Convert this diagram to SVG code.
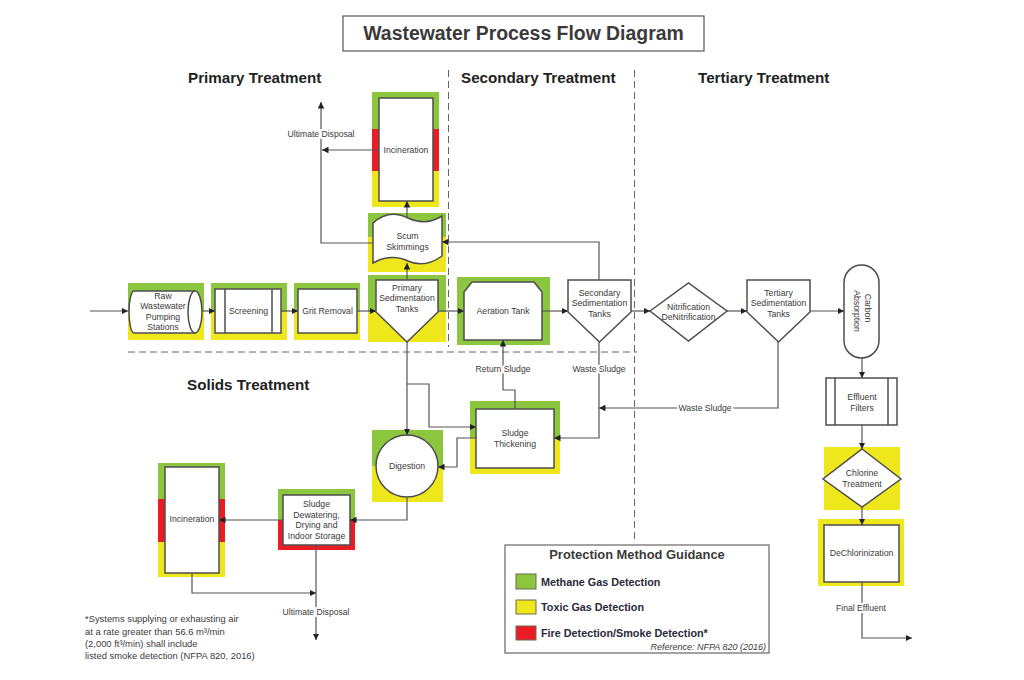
<svg xmlns="http://www.w3.org/2000/svg" width="1024" height="680" viewBox="0 0 1024 680">
<style>
text{font-family:"Liberation Sans",Arial,sans-serif;fill:#3a3a3a}
.n{font-size:8.7px;text-anchor:middle}
.h{font-size:15.2px;font-weight:bold;fill:#222}
.shape{fill:#fff;stroke:#4d4d4d;stroke-width:1.5}
.g{fill:#8cc63f}
.y{fill:#eee71c}
.r{fill:#ec1c24}
.c{fill:none;stroke:#555;stroke-width:1.2}
.lbl{font-size:8.6px;text-anchor:middle;stroke:#fff;stroke-width:4;paint-order:stroke}
.dash{fill:none;stroke:#666;stroke-width:1;stroke-dasharray:7,4}
.leg{font-size:10.8px;font-weight:bold;fill:#2a2a3a}
.fn{font-size:9.4px}
</style>
<defs>
<marker id="a" viewBox="0 0 10 10" refX="10" refY="5" markerWidth="6.5" markerHeight="6.5" markerUnits="userSpaceOnUse" orient="auto">
<path d="M0,0 L10,5 L0,10 Z" fill="#222"/>
</marker>
</defs>
<rect width="1024" height="680" fill="#fff"/>

<g id="title">
<rect x="343" y="16" width="361" height="35" fill="#fff" stroke="#555" stroke-width="1.2"/>
<text x="523.5" y="39.5" text-anchor="middle" font-size="19.4" font-weight="bold" fill="#222">Wastewater Process Flow Diagram</text>
</g>

<g id="sections">
<text class="h" x="188" y="83">Primary Treatment</text>
<text class="h" x="461" y="83">Secondary Treatment</text>
<text class="h" x="698" y="83">Tertiary Treatment</text>
<text class="h" x="187" y="390">Solids Treatment</text>
<path class="dash" d="M448.5,70 V347"/>
<path class="dash" d="M634.5,70 V543"/>
<path class="dash" d="M128,352 H637"/>
</g>

<g id="raw">
<rect class="g" x="128" y="283" width="76" height="29"/>
<rect class="y" x="128" y="312" width="76" height="28"/>
<path class="shape" d="M134,291 H195 A7,21 0 0 1 195,333 H134 A5,21 0 0 1 134,291 Z"/>
<path class="shape" fill="none" d="M195,291 A7,21 0 0 0 195,333"/>
<text class="n" x="163" y="299">Raw</text>
<text class="n" x="163" y="309">Wastewater</text>
<text class="n" x="163" y="319.5">Pumping</text>
<text class="n" x="163" y="330">Stations</text>
</g>

<g id="screening">
<rect class="g" x="211" y="283" width="76" height="29"/>
<rect class="y" x="211" y="312" width="76" height="28"/>
<rect class="shape" x="215" y="289" width="66" height="44"/>
<path class="shape" d="M225,289 V333 M272,289 V333"/>
<text class="n" x="248.5" y="314">Screening</text>
</g>

<g id="grit">
<rect class="g" x="294" y="283" width="66" height="29"/>
<rect class="y" x="294" y="312" width="66" height="28"/>
<rect class="shape" x="298" y="289" width="59" height="44"/>
<text class="n" x="327.5" y="314">Grit Removal</text>
</g>

<g id="primary">
<rect class="g" x="368" y="275" width="78" height="37"/>
<rect class="y" x="368" y="312" width="78" height="30"/>
<path class="shape" d="M376,280 H438 V312 L407,342 L376,312 Z"/>
<text class="n" x="407" y="291">Primary</text>
<text class="n" x="407" y="301">Sedimentation</text>
<text class="n" x="407" y="311.5">Tanks</text>
</g>

<g id="scum">
<rect class="g" x="368" y="213" width="78" height="24"/>
<rect class="y" x="368" y="237" width="78" height="35"/>
<path class="shape" d="M373,223 C385,212 398,213 408,218 C419,223 431,223 442,216 L442,256 C431,264 419,266 408,261 C398,256 385,256 373,263 Z"/>
<text class="n" x="407.5" y="239">Scum</text>
<text class="n" x="407.5" y="250">Skimmings</text>
</g>

<g id="incineration-top">
<rect class="g" x="372" y="92" width="67" height="37"/>
<rect class="r" x="372" y="129" width="67" height="42"/>
<rect class="y" x="372" y="171" width="67" height="36"/>
<rect class="shape" x="379" y="98" width="54" height="103"/>
<text class="n" x="406" y="153">Incineration</text>
</g>

<g id="aeration">
<rect class="g" x="457" y="277" width="93" height="68"/>
<path class="shape" d="M472,282 H534 L542,292 V340 H464 V292 Z"/>
<text class="n" x="503" y="314">Aeration Tank</text>
</g>

<g id="secondary">
<path class="shape" d="M568,280 H631 V312 L599.5,342 L568,312 Z"/>
<text class="n" x="599.5" y="296">Secondary</text>
<text class="n" x="599.5" y="306">Sedimentation</text>
<text class="n" x="599.5" y="316.5">Tanks</text>
</g>

<g id="nitrification">
<path class="shape" d="M650,311 L688.5,283 L727,311 L688.5,341 Z"/>
<text class="n" x="688.5" y="309.5">Nitrification</text>
<text class="n" x="688.5" y="319.5">DeNitrification</text>
</g>

<g id="tertiary">
<path class="shape" d="M747,280 H810 V312 L778.5,342 L747,312 Z"/>
<text class="n" x="778.5" y="296">Tertiary</text>
<text class="n" x="778.5" y="306">Sedimentation</text>
<text class="n" x="778.5" y="316.5">Tanks</text>
</g>

<g id="carbon">
<rect class="shape" x="844" y="265" width="35" height="93" rx="17.5" ry="17.5"/>
<text class="n" transform="translate(864.5,308) rotate(90)">Carbon</text>
<text class="n" transform="translate(854,311) rotate(90)">Absorption</text>
</g>

<g id="filters">
<rect class="shape" x="826" y="378" width="71" height="47"/>
<path class="shape" d="M835,378 V425 M888,378 V425"/>
<text class="n" x="862" y="400">Effluent</text>
<text class="n" x="862" y="411">Filters</text>
</g>

<g id="chlorine">
<rect class="y" x="824" y="447" width="76" height="63"/>
<path class="shape" d="M862,449 L901,479 L862,507 L823,479 Z"/>
<text class="n" x="862" y="476">Chlorine</text>
<text class="n" x="862" y="487">Treatment</text>
</g>

<g id="dechlorinization">
<rect class="y" x="818" y="519" width="86" height="67"/>
<rect class="shape" x="824" y="525" width="75" height="57"/>
<text class="n" x="861.5" y="556">DeChlorinization</text>
</g>

<g id="thickening">
<rect class="g" x="470" y="401" width="90" height="37"/>
<rect class="y" x="470" y="438" width="90" height="36"/>
<rect class="shape" x="476" y="409" width="78" height="59"/>
<text class="n" x="515" y="436">Sludge</text>
<text class="n" x="515" y="446.5">Thickening</text>
</g>

<g id="digestion">
<rect class="g" x="372" y="430" width="71" height="36"/>
<rect class="y" x="372" y="466" width="71" height="36"/>
<circle class="shape" cx="407" cy="466" r="31"/>
<text class="n" x="407" y="469">Digestion</text>
</g>

<g id="dewatering">
<rect class="g" x="278" y="489" width="77" height="31"/>
<rect class="r" x="278" y="520" width="77" height="30"/>
<rect class="shape" x="283" y="495" width="67" height="50"/>
<text class="n" x="316.5" y="507">Sludge</text>
<text class="n" x="316.5" y="517.5">Dewatering,</text>
<text class="n" x="316.5" y="528">Drying and</text>
<text class="n" x="316.5" y="538.5">Indoor Storage</text>
</g>

<g id="incineration-solids">
<rect class="g" x="158" y="463" width="67" height="36"/>
<rect class="r" x="158" y="499" width="67" height="43"/>
<rect class="y" x="158" y="542" width="67" height="35"/>
<rect class="shape" x="165" y="467" width="54" height="106"/>
<text class="n" x="192" y="522">Incineration</text>
</g>

<g id="connectors">
<path class="c" d="M90,311 H128" marker-end="url(#a)"/>
<path class="c" d="M202,311 H215" marker-end="url(#a)"/>
<path class="c" d="M281,311 H298" marker-end="url(#a)"/>
<path class="c" d="M357,311 H376" marker-end="url(#a)"/>
<path class="c" d="M438,311 H464" marker-end="url(#a)"/>
<path class="c" d="M542,311 H568" marker-end="url(#a)"/>
<path class="c" d="M631,311 H650" marker-end="url(#a)"/>
<path class="c" d="M727,311 H747" marker-end="url(#a)"/>
<path class="c" d="M810,311 H844" marker-end="url(#a)"/>
<path class="c" d="M862,358 V378" marker-end="url(#a)"/>
<path class="c" d="M862,425 V449" marker-end="url(#a)"/>
<path class="c" d="M862,507 V525" marker-end="url(#a)"/>
<path class="c" d="M862,582 V638 H912" marker-end="url(#a)"/>
<path class="c" d="M407,280 V263" marker-end="url(#a)"/>
<path class="c" d="M407,217 V201" marker-end="url(#a)"/>
<path class="c" d="M379,150 H322" marker-end="url(#a)"/>
<path class="c" d="M373,243 H321 V102" marker-end="url(#a)"/>
<path class="c" d="M599,280 V242 H442" marker-end="url(#a)"/>
<path class="c" d="M407,342 V435" marker-end="url(#a)"/>
<path class="c" d="M407,384 H429 V427 H476" marker-end="url(#a)"/>
<path class="c" d="M476,438 H457 V467 H438" marker-end="url(#a)"/>
<path class="c" d="M515,409 V390 H503 V340" marker-end="url(#a)"/>
<path class="c" d="M599,342 V438 H554" marker-end="url(#a)"/>
<path class="c" d="M778,342 V408 H599" marker-end="url(#a)"/>
<path class="c" d="M407,497 V520 H350" marker-end="url(#a)"/>
<path class="c" d="M283,520 H219" marker-end="url(#a)"/>
<path class="c" d="M316,545 V640" marker-end="url(#a)"/>
<path class="c" d="M192,573 V593 H316" marker-end="url(#a)"/>
<text class="lbl" x="321" y="137">Ultimate Disposal</text>
<text class="lbl" x="503" y="372">Return Sludge</text>
<text class="lbl" x="599" y="372">Waste Sludge</text>
<text class="lbl" x="705" y="411">Waste Sludge</text>
<text class="lbl" x="316" y="615">Ultimate Disposal</text>
<text class="lbl" x="861" y="611">Final Effluent</text>
</g>

<g id="footnote">
<text class="fn" x="85" y="622">*Systems supplying or exhausting air</text>
<text class="fn" x="85" y="635">at a rate greater than 56.6 m³/min</text>
<text class="fn" x="85" y="647">(2,000 ft³/min) shall include</text>
<text class="fn" x="85" y="659">listed smoke detection (NFPA 820, 2016)</text>
</g>

<g id="legend">
<rect x="505" y="545" width="264" height="108" fill="#fff" stroke="#666" stroke-width="1.2"/>
<text x="637" y="559" text-anchor="middle" font-size="12.9" font-weight="bold" fill="#2a2a3a">Protection Method Guidance</text>
<rect x="516" y="574" width="20" height="15" fill="#8cc63f" stroke="#6a6a50" stroke-width="1"/>
<rect x="516" y="600" width="20" height="14" fill="#eee71c" stroke="#6a6a50" stroke-width="1"/>
<rect x="516" y="626" width="20" height="14" fill="#ec1c24" stroke="#6a6a50" stroke-width="1"/>
<text class="leg" x="541" y="586">Methane Gas Detection</text>
<text class="leg" x="541" y="611">Toxic Gas Detection</text>
<text class="leg" x="541" y="637">Fire Detection/Smoke Detection*</text>
<text x="766" y="650" text-anchor="end" font-size="9" font-style="italic" fill="#444">Reference:  NFPA 820 (2016)</text>
</g>
</svg>
